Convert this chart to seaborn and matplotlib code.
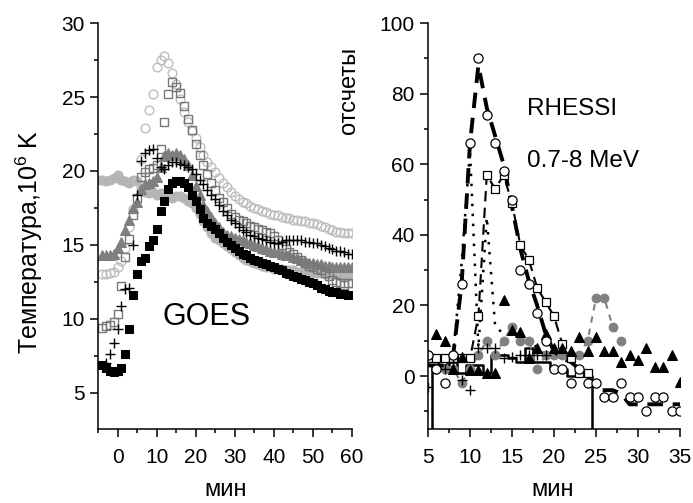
import numpy as np
import pandas as pd
import matplotlib
matplotlib.use("Agg")
import matplotlib.pyplot as plt
from matplotlib.ticker import MultipleLocator
import seaborn as sns

# ---- GOES temperature (left panel), minutes, 10^6 K ----
goes_t = list(range(-4, 61))
goes_t_plus = list(range(-3, 61))
goes_t_flat = list(range(-5, 61))

black_sq = [6.9, 6.7, 6.5, 6.4, 6.5, 6.7, 7.6, 9.3, 11.6, 13.0, 13.9, 14.1, 14.9, 15.3, 16.1,
            17.3, 18.0, 18.8, 19.2, 19.3, 19.3, 19.2, 18.9, 18.4, 18.0, 17.4, 16.8, 16.5, 16.3,
            16.1, 15.8, 15.5, 15.2, 15.0, 14.8, 14.6, 14.4, 14.3, 14.1, 14.0, 13.9, 13.8, 13.7,
            13.6, 13.5, 13.4, 13.3, 13.1, 13.0, 12.9, 12.8, 12.7, 12.6, 12.5, 12.4, 12.3, 12.1,
            12.0, 11.9, 11.8, 11.8, 11.7, 11.7, 11.6, 11.6]
open_circ = [13.0, 13.0, 13.1, 13.2, 13.5, 13.9, 14.8, 16.2, 17.4, 19.3, 20.8, 22.9, 24.1, 25.2,
             27.0, 27.5, 27.8, 27.3, 26.6, 25.9, 24.9, 24.0, 23.3, 22.7, 22.2, 21.6, 21.1, 20.6,
             20.3, 19.9, 19.5, 19.2, 18.9, 18.6, 18.3, 18.1, 17.9, 17.8, 17.6, 17.5, 17.4, 17.3,
             17.2, 17.1, 17.0, 17.0, 16.9, 16.8, 16.8, 16.7, 16.7, 16.6, 16.6, 16.5, 16.5, 16.4,
             16.3, 16.2, 16.1, 16.0, 15.9, 15.9, 15.8, 15.8, 15.8]
open_sq = [9.4, 9.5, 9.6, 9.8, 10.3, 12.2, 14.2, 15.4, 17.0, 18.2, 19.6, 19.9, 20.1, 20.2, 20.4,
           21.5, 23.3, 25.2, 26.0, 25.7, 25.3, 24.4, 23.5, 22.8, 21.8, 21.1, 20.4, 19.8, 19.2,
           18.7, 18.2, 17.9, 17.5, 17.1, 16.9, 16.7, 16.6, 16.5, 16.3, 16.2, 16.1, 16.0, 15.9,
           15.8, 15.6, 15.3, 15.0, 14.7, 14.5, 14.4, 14.2, 14.0, 13.8, 13.6, 13.5, 13.4, 13.3,
           13.1, 12.9, 12.6, 12.5, 12.4, 12.3, 12.4, 12.4]
plus_vals = [7.0, 7.6, 8.4, 9.3, 10.9, 12.0, 12.1, 15.0, 18.4, 20.7, 21.2, 21.4, 21.5, 20.9,
             20.3, 20.1, 20.4, 20.6, 20.6, 20.5, 20.4, 20.3, 20.1, 19.8, 19.4, 19.1, 18.7, 18.4,
             18.1, 17.7, 17.3, 17.0, 16.7, 16.5, 16.2, 16.0, 15.9, 15.7, 15.6, 15.5, 15.4, 15.3,
             15.2, 15.1, 15.1, 15.2, 15.3, 15.3, 15.3, 15.3, 15.3, 15.2, 15.2, 15.1, 15.1, 15.0,
             14.9, 14.8, 14.7, 14.6, 14.6, 14.5, 14.4, 14.4]
tri_vals = [14.3, 14.3, 14.3, 14.4, 14.8, 15.2, 16.0, 16.7, 17.5, 17.9, 18.8, 19.1, 19.2, 19.3,
            19.6, 20.3, 21.0, 21.2, 21.1, 21.2, 21.1, 20.8, 20.4, 19.7, 19.0, 18.4, 17.7, 17.3,
            16.9, 16.5, 16.2, 15.9, 15.7, 15.6, 15.5, 15.4, 15.3, 15.2, 15.1, 15.0, 14.9, 14.8,
            14.7, 14.6, 14.5, 14.5, 14.4, 14.3, 14.3, 14.2, 14.1, 14.0, 13.9, 13.8, 13.8, 13.7,
            13.7, 13.6, 13.6, 13.5, 13.5, 13.5, 13.5, 13.5, 13.5]
flat_circ = [19.4, 19.4, 19.3, 19.4, 19.5, 19.7, 19.4, 19.3, 19.2, 19.4, 19.3, 18.8, 18.6, 18.5,
             18.6, 18.4, 18.5, 18.4, 18.3, 18.2, 18.3, 18.3, 18.2, 18.0, 17.8, 17.5, 17.1, 16.6,
             16.2, 15.8, 15.5, 15.3, 15.1, 14.9, 14.7, 14.5, 14.3, 14.1, 14.0, 13.9, 13.8, 13.7,
             13.6, 13.5, 13.5, 13.4, 13.4, 13.4, 13.3, 13.3, 13.3, 13.2, 13.2, 13.2, 13.1, 13.1,
             13.1, 13.1, 13.0, 13.0, 13.0, 13.0, 12.9, 12.9, 12.9, 12.9]

# ---- RHESSI 0.7-8 MeV counts (right panel) ----
rh_t = list(range(5, 36))
rh_circ = [6, 2, -2, 6, 26, 66, 90, 74, 66, 58, 50, 30, 26, 18, 10, 2, 2, -2, 2, -2,
           -2, -6, -6, -2, -6, -6, -10, -6, -6, -10, -10]
rh_thick = [3, 3, 3, 6, 26, 66, 88, 76, 68, 60, 48, 36, 27, 20, 12, 7, 5, 4, 2, 0,
            -4, -4, -4, -5, -8, -8, -8, -8, -8, -8, -8]
rh_t_sq = list(range(5, 25))
rh_sq = [5, 5, 5, 5, 5, 5, 17, 57, 53, 57, 49, 37, 33, 25, 21, 17, 9, 5, 1, 1]
rh_t_tri = list(range(6, 36))
rh_tri = [12, 10, 2, 5.5, 1.7, 1.7, 1, 1, 21.5, 13, 12.5, 5, 8, 12, 8, 8, 7, 11, 7, 11,
          7, 7, 4, 6, 4.5, 8, 2.6, 2.6, 6, -1.6]
rh_t_gray = list(range(5, 29))
rh_gray = [6, 2, 2, 2, -2, 2, 6, 10, 6, 10, 14, 10, 10, 2, 6, 6, 6, 6, 6, 10, 22, 22, 14, 10]
rh_t_plus = list(range(5, 20))
rh_plus = [-3, 2, 2, 4, -1, -4, 8, 8, 8, 5, 5.5, 6, 6, 6, 6]
rh_t_dot = list(range(5, 21))
rh_dot = [4, 4, 3, 6, 32, 64, 8, 45, 14, 12, 12, 11, 10, 8, 6, 5]
rh_t_step = list(range(5, 26))
rh_step = [-40, 3, 3, 4, 1, 3, 3, 1, 6, 6, 5, 4, 8, 4, 4, 2, 2, 0, 0, 0, -40]

sns.set_theme(style="ticks")
plt.rcParams['font.family'] = ['Liberation Sans', 'DejaVu Sans']
plt.rcParams['mathtext.fontset'] = 'custom'
plt.rcParams['mathtext.rm'] = 'Liberation Sans'
plt.rcParams['axes.edgecolor'] = 'black'
plt.rcParams['axes.linewidth'] = 1.1
plt.rcParams['xtick.color'] = 'black'
plt.rcParams['ytick.color'] = 'black'
plt.rcParams['text.color'] = 'black'

fig = plt.figure(figsize=(6.93, 5.03), dpi=100)
ax1 = fig.add_axes([0.1414, 0.1471, 0.3665, 0.807])
ax2 = fig.add_axes([0.6176, 0.1471, 0.3636, 0.807])


def pts(ax, x, y, **kw):
    df = pd.DataFrame({"t": x, "v": y})
    kw.setdefault("linestyle", "none")
    sns.lineplot(data=df, x="t", y="v", ax=ax, estimator=None, sort=False, **kw)


# left panel: GOES temperatures
pts(ax1, goes_t_flat, flat_circ, marker="o", color="#b5b5b5", mec="#b5b5b5", ms=6.5)
pts(ax1, goes_t, open_circ, marker="o", color="#bdbdbd", mfc="none", mec="#bdbdbd", ms=6.3, mew=1)
pts(ax1, goes_t, tri_vals, marker="^", color="#7f7f7f", mec="#7f7f7f", ms=6.5)
pts(ax1, goes_t, open_sq, marker="s", color="#777777", mfc="none", mec="#777777", ms=5.5, mew=1)
pts(ax1, goes_t_plus, plus_vals, marker="+", color="black", mec="black", ms=6.5, mew=1)
pts(ax1, goes_t, black_sq, marker="s", color="black", mec="black", ms=5.5)

ax1.set_xlim(-5, 60)
ax1.set_ylim(2.55, 30)
ax1.xaxis.set_major_locator(MultipleLocator(10))
ax1.xaxis.set_minor_locator(MultipleLocator(5))
ax1.yaxis.set_major_locator(MultipleLocator(5))
ax1.yaxis.set_minor_locator(MultipleLocator(2.5))
ax1.text(11.5, 9.6, "GOES", fontsize=22)

# right panel: RHESSI counts
pts(ax2, rh_t_step, rh_step, color="black", linestyle="-", lw=1.8, drawstyle="steps-mid")
pts(ax2, rh_t_dot, rh_dot, color="black", linestyle=(0, (1, 3)), lw=1.8)
pts(ax2, rh_t_gray, rh_gray, marker="o", color="#808080", mec="#808080", ms=6.3,
    linestyle=(0, (3, 3)), lw=1.5)
pts(ax2, rh_t, rh_thick, color="black", linestyle=(0, (4, 2.5)), lw=2.8)
pts(ax2, rh_t_sq, rh_sq, marker="s", color="black", mfc="white", mec="black", ms=5.7, mew=0.9,
    linestyle=(0, (5, 3)), lw=1.5)
pts(ax2, rh_t_plus, rh_plus, marker="+", color="black", mec="black", ms=6.5, mew=1)
pts(ax2, rh_t_tri, rh_tri, marker="^", color="black", mec="black", ms=7)
pts(ax2, rh_t, rh_circ, marker="o", color="black", mfc="white", mec="black", ms=6.6, mew=0.9)

ax2.set_xlim(5, 35)
ax2.set_ylim(-15, 100)
ax2.xaxis.set_major_locator(MultipleLocator(5))
ax2.xaxis.set_minor_locator(MultipleLocator(2.5))
ax2.yaxis.set_major_locator(MultipleLocator(20))
ax2.yaxis.set_minor_locator(MultipleLocator(10))
ax2.text(16.8, 73.9, "RHESSI", fontsize=17.5)
ax2.text(16.8, 59.3, "0.7-8 MeV", fontsize=17.5)

for ax in (ax1, ax2):
    sns.despine(ax=ax)
    ax.set_xlabel("")
    ax.set_ylabel("")
    ax.tick_params(which="major", direction="out", length=5.5, width=1.1, labelsize=15, pad=4)
    ax.tick_params(which="minor", direction="out", length=3, width=1.1)
    ax.tick_params(axis="x", pad=8)

fig.text(0.043, 0.519, "Температура,10$^\\mathregular{6}$ K", rotation=90,
         ha="center", va="center", fontsize=18)
fig.text(0.503, 0.907, "отсчеты", rotation=90, ha="center", va="top", fontsize=17)
fig.text(0.325, 0.026, "мин", ha="center", va="center", fontsize=17)
fig.text(0.798, 0.026, "мин", ha="center", va="center", fontsize=17)

fig.savefig("out.png", dpi=100)
